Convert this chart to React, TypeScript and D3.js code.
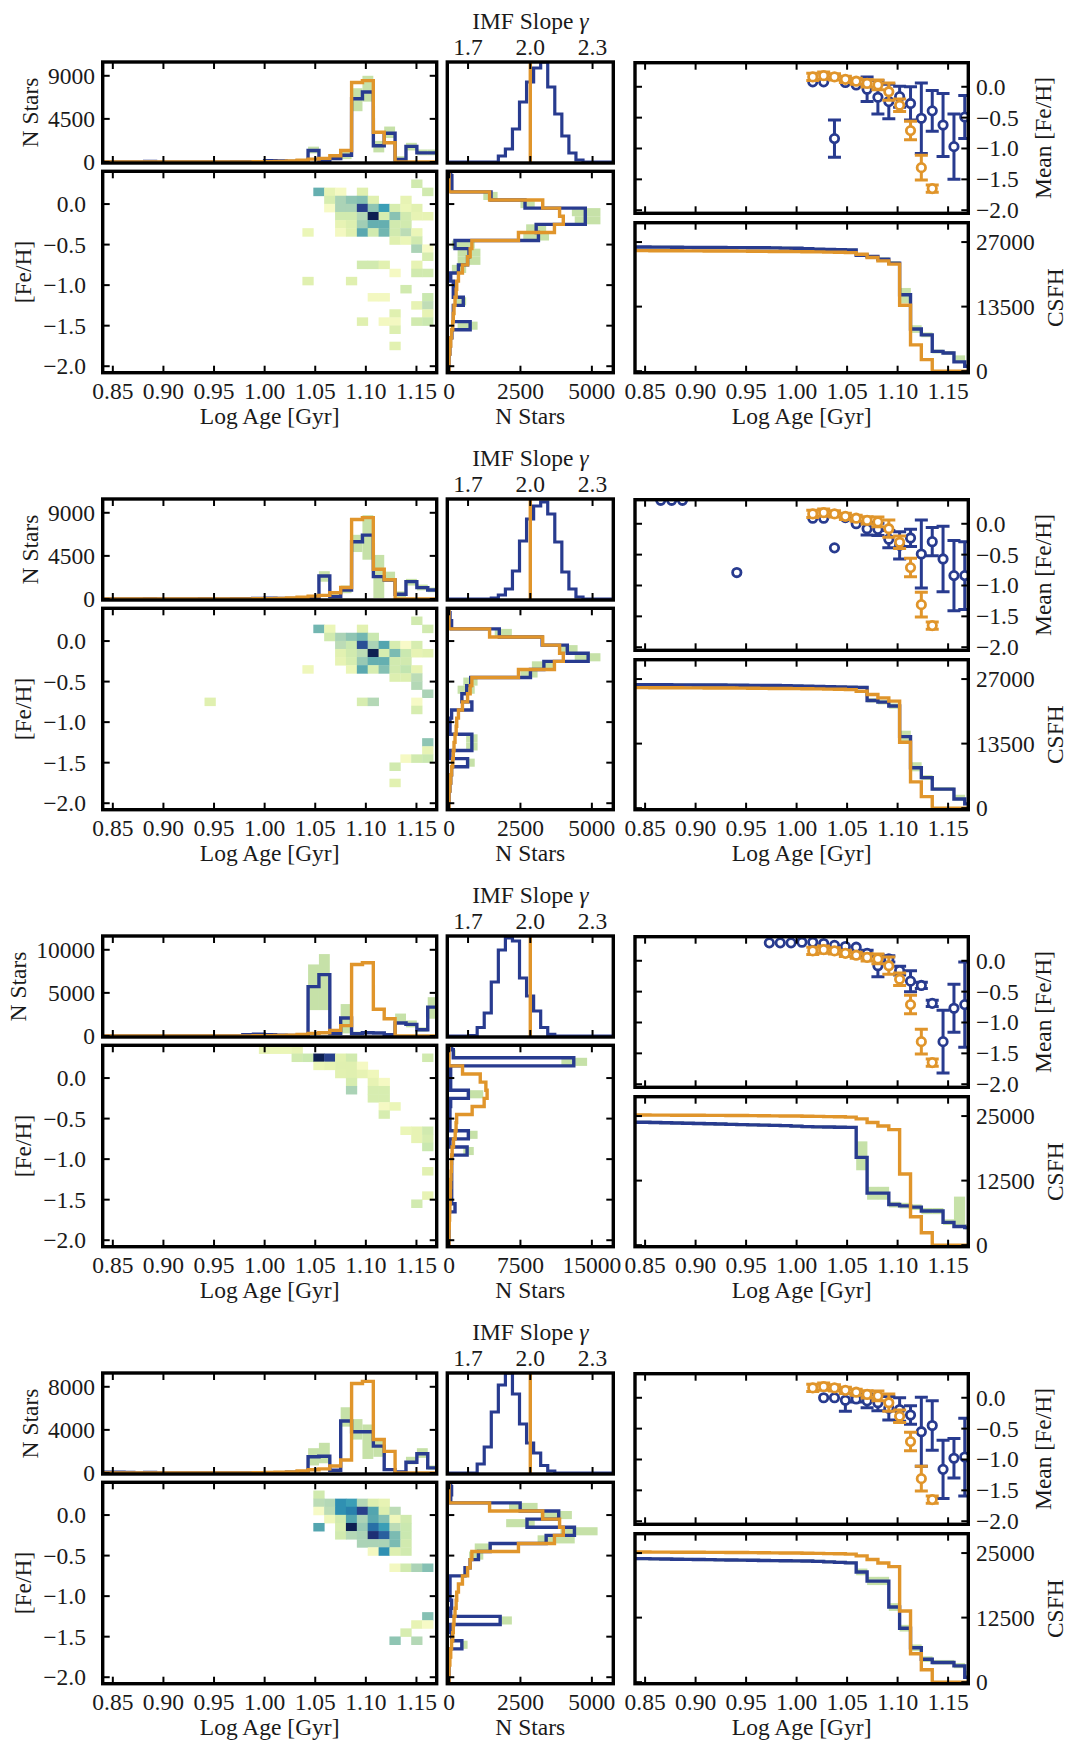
import React from 'react';
import * as d3 from 'd3';

// ---------------- grids / categories ----------------
const AGE_GRID = [0.844, 0.8548, 0.8655, 0.8763, 0.887, 0.8978, 0.9085, 0.9193, 0.93, 0.9408, 0.9515, 0.9623, 0.973, 0.9838, 0.9945, 1.0053, 1.016, 1.0268, 1.0375, 1.0483, 1.059, 1.0698, 1.0805, 1.0913, 1.102, 1.1128, 1.1235, 1.1343, 1.145, 1.1558, 1.1665];
const AGE_BIN_WIDTH = 0.01075;
const AGE_DOMAIN = [0.84, 1.17];
const AGE_TICKS = [0.85, 0.9, 0.95, 1.0, 1.05, 1.1, 1.15];
const AGE_TICK_LABELS = ['0.85', '0.90', '0.95', '1.00', '1.05', '1.10', '1.15'];

const FEH_GRID = [0.4, 0.3, 0.2, 0.1, 0.0, -0.1, -0.2, -0.3, -0.4, -0.5, -0.6, -0.7, -0.8, -0.9, -1.0, -1.1, -1.2, -1.3, -1.4, -1.5, -1.6, -1.7, -1.8, -1.9, -2.0];
const FEH_BIN = 0.1;
const FEH_DOMAIN = [-2.08, 0.404];
const MEAN_DOMAIN = [-2.05, 0.39];
const FEH_TICKS = [0, -0.5, -1.0, -1.5, -2.0];
const FEH_TICK_LABELS = ['0.0', '\u22120.5', '\u22121.0', '\u22121.5', '\u22122.0'];

const IMF_EDGES = [1.608, 1.642, 1.676, 1.71, 1.744, 1.778, 1.812, 1.846, 1.88, 1.914, 1.948, 1.982, 2.016, 2.05, 2.084, 2.118, 2.152, 2.186, 2.22, 2.254, 2.288, 2.322, 2.356, 2.39];
const IMF_DOMAIN = [1.6, 2.4];
const IMF_TICKS = [1.7, 2.0, 2.3];
const IMF_TICK_LABELS = ['1.7', '2.0', '2.3'];
const IMF_TRUE = 2.0;

// ---------------- truth (orange), shared by all rows ----------------
const ORANGE_AGE = [0, 0, 0, 0, 0, 0, 0, 0, 0, 0, 0, 0, 0, 0, 20, 40, 60, 100, 180, 300, 380, 650, 1200, 8300, 8500, 3100, 2000, 0, 0, 0, 0];
const ORANGE_FEH = [0, 0, 0, 1420, 3280, 3870, 4000, 3690, 2430, 800, 740, 650, 470, 330, 270, 250, 210, 175, 150, 130, 90, 60, 30, 0, 0];
const ORANGE_MEAN = [[16, 0.16, 0.06], [17, 0.18, 0.06], [18, 0.16, 0.05], [19, 0.12, 0.05], [20, 0.09, 0.05], [21, 0.055, 0.06], [22, 0.03, 0.08], [23, -0.08, 0.14], [24, -0.30, 0.10], [25, -0.71, 0.15], [26, -1.31, 0.20], [27, -1.65, 0.06]];
const ORANGE_CSFH = [25200, 25190, 25180, 25170, 25160, 25150, 25140, 25130, 25120, 25100, 25080, 25060, 25040, 25020, 25000, 24970, 24940, 24900, 24860, 24790, 24450, 23760, 23070, 22380, 13770, 5500, 2410, 0, 0, 0, 0];

// ---------------- row 1 ----------------
const HIST_TICKS_1 = [0, 4500, 9000];
const N_TICKS_1 = [0, 2500, 5000];
const CSFH_TICKS_1 = [0, 13500, 27000];
const AGE_HIST_1 = [0, 0, 0, 0, 50, 0, 0, 0, 0, 0, 0, 0, 30, 40, 0, 120, 100, 60, 80, 1200, 150, 350, 700, 6600, 7300, 1700, 3000, 250, 1630, 950, 950];
const AGE_BAND_1 = [[19, 900, 1600], [20, 50, 400], [21, 200, 700], [22, 300, 1100], [23, 5300, 7700], [24, 6300, 9000], [25, 1000, 2200], [26, 2500, 3700], [27, 100, 600], [28, 1200, 2000], [29, 700, 1300], [30, 700, 1300]];
const HEAT_1 = [
  [28, 0.2, 0.2],
  [19, 0.1, 0.45], [20, 0.1, 0.12], [21, 0.1, 0.05], [23, 0.1, 0.15], [29, 0.1, 0.2],
  [20, 0.0, 0.18], [21, 0.0, 0.3], [22, 0.0, 0.36], [23, 0.0, 0.38], [24, 0.0, 0.15], [27, 0.0, 0.12],
  [20, -0.1, 0.04], [21, -0.1, 0.3], [22, -0.1, 0.3], [23, -0.1, 0.85], [24, -0.1, 0.36], [25, -0.1, 0.55], [26, -0.1, 0.18], [27, -0.1, 0.1], [28, -0.1, 0.14],
  [21, -0.2, 0.2], [22, -0.2, 0.2], [23, -0.2, 0.28], [24, -0.2, 1.0], [25, -0.2, 0.18], [26, -0.2, 0.37], [27, -0.2, 0.2], [28, -0.2, 0.12], [29, -0.2, 0.12],
  [21, -0.3, 0.12], [22, -0.3, 0.16], [23, -0.3, 0.32], [24, -0.3, 0.45], [25, -0.3, 0.45], [26, -0.3, 0.2], [27, -0.3, 0.2],
  [18, -0.4, 0.1], [21, -0.4, 0.06], [22, -0.4, 0.15], [23, -0.4, 0.48], [24, -0.4, 0.2], [25, -0.4, 0.42], [26, -0.4, 0.2], [27, -0.4, 0.26], [28, -0.4, 0.1],
  [26, -0.5, 0.15], [27, -0.5, 0.1], [28, -0.5, 0.2],
  [28, -0.6, 0.3], [29, -0.6, 0.04],
  [29, -0.7, 0.18],
  [23, -0.8, 0.2], [24, -0.8, 0.2], [25, -0.8, 0.14], [28, -0.8, 0.12],
  [26, -0.9, 0.05], [28, -0.9, 0.2], [29, -0.9, 0.2],
  [18, -1.0, 0.15], [22, -1.0, 0.15],
  [27, -1.1, 0.2],
  [24, -1.2, 0.06], [25, -1.2, 0.06], [29, -1.2, 0.22],
  [28, -1.3, 0.12], [29, -1.3, 0.25],
  [26, -1.4, 0.15], [29, -1.4, 0.12],
  [23, -1.5, 0.15], [25, -1.5, 0.06], [26, -1.5, 0.06], [28, -1.5, 0.2], [29, -1.5, 0.22],
  [26, -1.6, 0.16],
  [26, -1.8, 0.14],
];
const IMF_1 = [0, 0, 0, 0, 0, 0, 0, 0.06, 0.13, 0.33, 0.60, 0.80, 0.94, 1.0, 0.75, 0.48, 0.26, 0.09, 0.02, 0, 0, 0, 0];
const FEH_N_1 = [60, 100, 100, 1470, 2660, 4770, 4770, 3050, 3130, 210, 700, 650, 330, 60, 150, 150, 500, 150, 150, 740, 100, 50, 30, 0, 0];
const FEH_BAND_1 = [[0.1, 1200, 1700], [0.0, 2500, 3000], [-0.1, 4300, 5300], [-0.2, 4400, 5300], [-0.3, 2700, 3400], [-0.4, 2600, 3500], [-0.5, 100, 900], [-0.6, 300, 1100], [-0.7, 300, 1100], [-0.8, 100, 600], [-1.2, 200, 600], [-1.5, 300, 1000]];
const BLUE_MEAN_1 = [[16, 0.08, 0], [17, 0.08, 0], [18, -0.84, 0.30], [19, 0.07, 0], [20, 0.03, 0], [21, -0.04, 0.20], [22, -0.17, 0.27], [23, -0.24, 0.28], [24, -0.16, 0.17], [25, -0.27, 0.27], [26, -0.51, 0.57], [27, -0.39, 0.33], [28, -0.62, 0.51], [29, -0.97, 0.53], [30, -0.49, 0.35]];
const CSFH_1 = [25960, 25950, 25940, 25930, 25880, 25870, 25860, 25850, 25840, 25830, 25820, 25810, 25780, 25740, 25700, 25600, 25500, 25440, 25380, 25340, 24240, 23970, 23400, 22600, 15980, 8815, 7580, 4130, 3790, 1930, 1030];
const CSFH_BAND_1 = [[20, 24000, 24600], [21, 23700, 24300], [22, 23100, 23800], [23, 22200, 23000], [24, 14200, 17400], [25, 8000, 9600], [26, 7100, 8100], [27, 3700, 4500], [28, 3400, 4200], [29, 1700, 3300], [30, 800, 1400]];

// ---------------- row 2 ----------------
const HIST_TICKS_2 = [0, 4500, 9000];
const N_TICKS_2 = [0, 2500, 5000];
const CSFH_TICKS_2 = [0, 13500, 27000];
const AGE_HIST_2 = [0, 0, 0, 0, 30, 0, 0, 0, 0, 40, 0, 0, 30, 40, 50, 80, 60, 60, 50, 100, 2400, 240, 940, 5980, 6670, 2330, 1980, 490, 1810, 1180, 940];
const AGE_BAND_2 = [[20, 1800, 2900], [21, 100, 500], [22, 600, 1400], [23, 4900, 6700], [24, 4100, 8750], [25, 100, 4600], [26, 1800, 2850], [27, 200, 800], [28, 1400, 2100], [29, 900, 1500], [30, 700, 1200]];
const HEAT_2 = [
  [28, 0.2, 0.2],
  [19, 0.1, 0.42], [20, 0.1, 0.1], [23, 0.1, 0.14], [29, 0.1, 0.2],
  [20, 0.0, 0.2], [21, 0.0, 0.3], [22, 0.0, 0.36], [23, 0.0, 0.42], [24, 0.0, 0.22],
  [21, -0.1, 0.26], [22, -0.1, 0.22], [23, -0.1, 0.8], [24, -0.1, 0.3], [25, -0.1, 0.5], [26, -0.1, 0.18], [27, -0.1, 0.03], [28, -0.1, 0.18],
  [21, -0.2, 0.14], [22, -0.2, 0.2], [23, -0.2, 0.26], [24, -0.2, 1.0], [25, -0.2, 0.18], [26, -0.2, 0.4], [27, -0.2, 0.22], [28, -0.2, 0.12], [29, -0.2, 0.14],
  [21, -0.3, 0.12], [22, -0.3, 0.18], [23, -0.3, 0.34], [24, -0.3, 0.45], [25, -0.3, 0.45], [26, -0.3, 0.2], [27, -0.3, 0.2],
  [18, -0.4, 0.08], [22, -0.4, 0.1], [23, -0.4, 0.48], [24, -0.4, 0.18], [25, -0.4, 0.38], [26, -0.4, 0.2], [27, -0.4, 0.24], [28, -0.4, 0.12],
  [26, -0.5, 0.16], [27, -0.5, 0.16], [28, -0.5, 0.26],
  [28, -0.6, 0.28],
  [29, -0.7, 0.3],
  [9, -0.8, 0.15], [23, -0.8, 0.18], [24, -0.8, 0.28], [28, -0.8, 0.04],
  [28, -0.9, 0.18],
  [29, -1.3, 0.36],
  [29, -1.4, 0.12],
  [27, -1.5, 0.05], [28, -1.5, 0.2], [29, -1.5, 0.22],
  [26, -1.6, 0.2],
  [26, -1.8, 0.14],
];
const IMF_2 = [0, 0, 0, 0, 0, 0, 0.01, 0.04, 0.10, 0.28, 0.58, 0.80, 0.93, 0.97, 0.85, 0.57, 0.27, 0.10, 0.02, 0, 0, 0, 0];
const FEH_N_2 = [0, 35, 90, 1760, 3260, 4140, 4870, 3320, 2850, 760, 620, 450, 800, 90, 35, 35, 800, 800, 35, 650, 90, 60, 30, 0, 0];
const FEH_BAND_2 = [[0.1, 1600, 2200], [-0.1, 3900, 4500], [-0.2, 4400, 5300], [-0.3, 2900, 3700], [-0.4, 2500, 3100], [-0.5, 500, 1000], [-0.6, 300, 900], [-1.2, 600, 1000], [-1.3, 600, 1000], [-1.5, 600, 900]];
const BLUE_MEAN_2 = [[2, 0.38, 0], [3, 0.38, 0], [4, 0.38, 0], [9, -0.79, 0], [16, 0.09, 0], [17, 0.09, 0], [18, -0.39, 0], [19, 0.10, 0], [20, 0.0, 0], [21, -0.08, 0.10], [22, -0.09, 0.10], [23, -0.25, 0.14], [24, -0.35, 0.22], [25, -0.23, 0.14], [26, -0.49, 0.55], [27, -0.29, 0.23], [28, -0.57, 0.53], [29, -0.84, 0.57], [30, -0.84, 0.55]];
const CSFH_2 = [25820, 25810, 25800, 25790, 25780, 25770, 25760, 25750, 25740, 25700, 25680, 25660, 25640, 25600, 25560, 25500, 25450, 25400, 25340, 25300, 25270, 22530, 22180, 21360, 14970, 8450, 6390, 3980, 3980, 1920, 890];
const CSFH_BAND_2 = [[21, 22100, 23000], [22, 21700, 22700], [23, 20800, 21900], [24, 13800, 16200], [25, 7700, 9600], [26, 5900, 6900], [27, 3600, 4400], [28, 3600, 4400], [29, 1600, 2800], [30, 700, 1200]];

// ---------------- row 3 ----------------
const HIST_TICKS_3 = [0, 5000, 10000];
const N_TICKS_3 = [0, 7500, 15000];
const CSFH_TICKS_3 = [0, 12500, 25000];
const AGE_HIST_3 = [0, 0, 0, 0, 0, 0, 0, 0, 0, 0, 0, 0, 0, 150, 200, 150, 100, 50, 30, 5730, 7120, 270, 2080, 270, 380, 350, 150, 1500, 1350, 730, 3350];
const AGE_BAND_3 = [[19, 3000, 8300], [20, 3000, 9500], [22, 300, 3700], [23, 100, 500], [27, 1400, 2600], [28, 1000, 1800], [29, 500, 1000], [30, 2000, 4500]];
const HEAT_3 = [
  [14, 0.3, 0.12], [15, 0.3, 0.1], [16, 0.3, 0.1], [17, 0.3, 0.12],
  [17, 0.2, 0.2], [18, 0.2, 0.22], [19, 0.2, 1.0], [20, 0.2, 0.85], [21, 0.2, 0.14], [22, 0.2, 0.2], [29, 0.2, 0.2],
  [19, 0.1, 0.1], [20, 0.1, 0.12], [21, 0.1, 0.15], [22, 0.1, 0.15], [23, 0.1, 0.05],
  [21, 0.0, 0.14], [22, 0.0, 0.15], [23, 0.0, 0.12], [24, 0.0, 0.08],
  [22, -0.1, 0.18], [24, -0.1, 0.12], [25, -0.1, 0.05],
  [22, -0.2, 0.3], [24, -0.2, 0.18], [25, -0.2, 0.18],
  [24, -0.3, 0.18], [25, -0.3, 0.18],
  [25, -0.4, 0.05], [26, -0.4, 0.1],
  [25, -0.5, 0.18],
  [27, -0.7, 0.1], [28, -0.7, 0.12], [29, -0.7, 0.2],
  [28, -0.8, 0.12], [29, -0.8, 0.18],
  [29, -0.9, 0.22],
  [29, -1.2, 0.14],
  [29, -1.5, 0.12],
  [28, -1.6, 0.2],
];
const IMF_3 = [0, 0, 0, 0.005, 0.085, 0.23, 0.54, 0.86, 0.98, 0.95, 0.58, 0.40, 0.25, 0.085, 0.017, 0, 0, 0, 0, 0, 0, 0, 0];
const FEH_N_3 = [280, 450, 13100, 175, 175, 175, 2030, 175, 100, 100, 100, 2030, 100, 1900, 280, 280, 280, 280, 280, 280, 630, 0, 0, 0, 0];
const FEH_BAND_3 = [[0.3, 400, 700], [0.2, 11800, 14500], [-0.2, 2000, 3600], [-0.7, 2000, 3000], [-0.9, 1500, 2600]];
const BLUE_MEAN_3 = [[12, 0.29, 0], [13, 0.29, 0], [14, 0.29, 0], [15, 0.30, 0], [16, 0.30, 0], [17, 0.28, 0], [18, 0.25, 0], [19, 0.23, 0], [20, 0.22, 0], [21, 0.12, 0.05], [22, -0.08, 0.18], [23, 0.03, 0.05], [24, -0.16, 0.07], [25, -0.33, 0.17], [26, -0.40, 0.05], [27, -0.69, 0.05], [28, -1.31, 0.51], [29, -0.77, 0.39], [30, -0.71, 0.69]];
const CSFH_3 = [23800, 23750, 23700, 23650, 23600, 23550, 23500, 23450, 23400, 23350, 23300, 23250, 23200, 23150, 23050, 22950, 22900, 22870, 22840, 22800, 17000, 10075, 10075, 7870, 7600, 7370, 6610, 6610, 4410, 3600, 3400];
const CSFH_BAND_3 = [[20, 14500, 20100], [21, 8800, 11300], [22, 8800, 11300], [23, 7300, 8400], [24, 7100, 8200], [25, 6800, 7900], [26, 6000, 7200], [27, 6000, 7200], [28, 3900, 5000], [29, 3300, 9400], [30, 3000, 4000]];

// ---------------- row 4 ----------------
const HIST_TICKS_4 = [0, 4000, 8000];
const N_TICKS_4 = [0, 2500, 5000];
const CSFH_TICKS_4 = [0, 12500, 25000];
const AGE_HIST_4 = [60, 60, 50, 0, 40, 0, 0, 0, 0, 0, 0, 0, 0, 0, 0, 0, 30, 60, 100, 1500, 1550, 250, 4830, 3830, 3830, 2490, 310, 90, 1000, 1780, 470];
const AGE_BAND_4 = [[19, 700, 2300], [20, 900, 2800], [22, 4300, 6100], [23, 3100, 5000], [24, 1300, 4500], [25, 1500, 3000], [28, 800, 1500], [29, 1400, 2300], [30, 300, 700]];
const HEAT_4 = [
  [19, 0.2, 0.2],
  [19, 0.1, 0.26], [20, 0.1, 0.28], [21, 0.1, 0.6], [22, 0.1, 0.55], [23, 0.1, 0.28], [24, 0.1, 0.16], [25, 0.1, 0.12],
  [19, 0.0, 0.04], [20, 0.0, 0.26], [21, 0.0, 0.6], [22, 0.0, 0.65], [23, 0.0, 0.85], [24, 0.0, 0.5], [25, 0.0, 0.16], [26, 0.0, 0.26],
  [20, -0.1, 0.08], [21, -0.1, 0.2], [22, -0.1, 0.5], [23, -0.1, 0.3], [24, -0.1, 0.48], [25, -0.1, 0.38], [26, -0.1, 0.08], [27, -0.1, 0.2],
  [19, -0.2, 0.5], [21, -0.2, 0.18], [22, -0.2, 1.0], [23, -0.2, 0.34], [24, -0.2, 0.7], [25, -0.2, 0.55], [26, -0.2, 0.26], [27, -0.2, 0.22],
  [21, -0.3, 0.2], [22, -0.3, 0.28], [23, -0.3, 0.3], [24, -0.3, 0.92], [25, -0.3, 0.75], [26, -0.3, 0.4], [27, -0.3, 0.22],
  [23, -0.4, 0.3], [24, -0.4, 0.3], [25, -0.4, 0.3], [26, -0.4, 0.4], [27, -0.4, 0.2],
  [24, -0.5, 0.06], [25, -0.5, 0.6], [26, -0.5, 0.16], [27, -0.5, 0.2],
  [26, -0.7, 0.06], [27, -0.7, 0.2], [28, -0.7, 0.3], [29, -0.7, 0.38],
  [29, -1.3, 0.38],
  [28, -1.4, 0.12], [29, -1.4, 0.04],
  [27, -1.5, 0.18],
  [26, -1.6, 0.36], [28, -1.6, 0.28],
];
const IMF_4 = [0, 0, 0, 0, 0.09, 0.26, 0.61, 0.88, 1.0, 0.79, 0.49, 0.30, 0.20, 0.075, 0.02, 0, 0, 0, 0, 0, 0, 0, 0];
const FEH_N_4 = [60, 90, 60, 2490, 3840, 2730, 4390, 3400, 1440, 1030, 740, 560, 35, 35, 35, 90, 60, 1790, 60, 100, 450, 30, 0, 0, 0];
const FEH_BAND_4 = [[0.1, 2100, 3100], [0.0, 3200, 4300], [-0.1, 2000, 3000], [-0.2, 3900, 5200], [-0.3, 3100, 4400], [-0.4, 900, 1500], [-0.5, 700, 1200], [-1.3, 1800, 2200], [-1.6, 400, 650]];
const BLUE_MEAN_4 = [[17, 0.0, 0], [18, 0.0, 0], [19, -0.04, 0.18], [20, -0.02, 0.05], [21, -0.05, 0.11], [22, -0.08, 0.13], [23, -0.17, 0.19], [24, -0.19, 0.19], [25, -0.28, 0.15], [26, -0.55, 0.56], [27, -0.45, 0.40], [28, -1.16, 0.47], [29, -0.98, 0.32], [30, -0.96, 0.63]];
const CSFH_4 = [23920, 23880, 23840, 23800, 23780, 23750, 23720, 23690, 23660, 23630, 23600, 23570, 23540, 23510, 23480, 23450, 23400, 23300, 23200, 23100, 21330, 19560, 19560, 14560, 10440, 6650, 4430, 3800, 3800, 3160, 950];
const CSFH_BAND_4 = [[20, 20700, 22000], [21, 18800, 20400], [22, 18800, 20400], [23, 13800, 15300], [24, 9800, 11100], [25, 6000, 7300], [26, 3900, 5000], [27, 3400, 4300], [28, 3400, 4300], [29, 2700, 3700], [30, 600, 2200]];

const GROUPS = [
  { histTicks: HIST_TICKS_1, nTicks: N_TICKS_1, csfhTicks: CSFH_TICKS_1, age: AGE_HIST_1, ageBand: AGE_BAND_1, heat: HEAT_1, imf: IMF_1, feh: FEH_N_1, fehBand: FEH_BAND_1, mean: BLUE_MEAN_1, csfh: CSFH_1, csfhBand: CSFH_BAND_1 },
  { histTicks: HIST_TICKS_2, nTicks: N_TICKS_2, csfhTicks: CSFH_TICKS_2, age: AGE_HIST_2, ageBand: AGE_BAND_2, heat: HEAT_2, imf: IMF_2, feh: FEH_N_2, fehBand: FEH_BAND_2, mean: BLUE_MEAN_2, csfh: CSFH_2, csfhBand: CSFH_BAND_2 },
  { histTicks: HIST_TICKS_3, nTicks: N_TICKS_3, csfhTicks: CSFH_TICKS_3, age: AGE_HIST_3, ageBand: AGE_BAND_3, heat: HEAT_3, imf: IMF_3, feh: FEH_N_3, fehBand: FEH_BAND_3, mean: BLUE_MEAN_3, csfh: CSFH_3, csfhBand: CSFH_BAND_3 },
  { histTicks: HIST_TICKS_4, nTicks: N_TICKS_4, csfhTicks: CSFH_TICKS_4, age: AGE_HIST_4, ageBand: AGE_BAND_4, heat: HEAT_4, imf: IMF_4, feh: FEH_N_4, fehBand: FEH_BAND_4, mean: BLUE_MEAN_4, csfh: CSFH_4, csfhBand: CSFH_BAND_4 },
];

// ---------------- styling / layout ----------------
const GROUP_TOPS = [62, 499, 936, 1373];
const X_L0 = 102.7, X_L1 = 436.7;
const X_M0 = 447.3, X_M1 = 613.3;
const X_R0 = 635, X_R1 = 968.3;
const FONT = "'Liberation Serif', 'Times New Roman', 'DejaVu Serif', serif";
const FS = 23.5;
const BLUE = '#283b8f';
const ORANGE = '#e0952b';
const GREEN = '#c6e1a8';
const TXT = '#1a1a1a';
const FRAME_W = 3.4;
const TICK_LEN = 7;
const TICK_W = 2;
const LINE_W = 3.4;

type R = { x0: number; x1: number; y0: number; y1: number };

function Frame({ r }: { r: R }) {
  return <rect x={r.x0} y={r.y0} width={r.x1 - r.x0} height={r.y1 - r.y0} fill="none" stroke="#000" strokeWidth={FRAME_W} />;
}

function Clip({ id, r }: { id: string; r: R }) {
  return (
    <clipPath id={id}>
      <rect x={r.x0} y={r.y0} width={r.x1 - r.x0} height={r.y1 - r.y0} />
    </clipPath>
  );
}

function Ticks({ r, xs, ys }: { r: R; xs: number[]; ys: number[] }) {
  return (
    <g stroke="#000" strokeWidth={TICK_W}>
      {xs.map((x, i) => (
        <g key={'x' + i}>
          <line x1={x} x2={x} y1={r.y0} y2={r.y0 + TICK_LEN} />
          <line x1={x} x2={x} y1={r.y1} y2={r.y1 - TICK_LEN} />
        </g>
      ))}
      {ys.map((y, i) => (
        <g key={'y' + i}>
          <line x1={r.x0} x2={r.x0 + TICK_LEN} y1={y} y2={y} />
          <line x1={r.x1} x2={r.x1 - TICK_LEN} y1={y} y2={y} />
        </g>
      ))}
    </g>
  );
}

function MeanSeries({ pts, color, x, y }: { pts: number[][]; color: string; x: any; y: any }) {
  return (
    <g>
      {pts.filter(p => p[2] > 0).map((p, i) => {
        const cx = x(AGE_GRID[p[0]]);
        const ya = y(p[1] - p[2]);
        const yb = y(p[1] + p[2]);
        return (
          <g key={'e' + i} stroke={color} strokeWidth={3}>
            <line x1={cx} x2={cx} y1={ya} y2={yb} />
            <line x1={cx - 6.5} x2={cx + 6.5} y1={ya} y2={ya} />
            <line x1={cx - 6.5} x2={cx + 6.5} y1={yb} y2={yb} />
          </g>
        );
      })}
      {pts.map((p, i) => (
        <circle key={'c' + i} cx={x(AGE_GRID[p[0]])} cy={y(p[1])} r={4.2} fill="#fff" stroke={color} strokeWidth={2.8} />
      ))}
    </g>
  );
}

const heatColor = (lv: number) => {
  const c = d3.hsl(d3.interpolateYlGnBu(lv));
  const f = lv < 0.25 ? 0.92 : lv < 0.55 ? 0.72 : 0.88;
  c.s = c.s * f;
  c.l = c.l * 0.98;
  return c.formatHex();
};

function Group({ gi, top, d }: { gi: number; top: number; d: any }) {
  const T = top;
  const rH: R = { x0: X_L0, x1: X_L1, y0: T, y1: T + 101 };
  const rM: R = { x0: X_L0, x1: X_L1, y0: T + 109.3, y1: T + 310.7 };
  const rI: R = { x0: X_M0, x1: X_M1, y0: T, y1: T + 101 };
  const rF: R = { x0: X_M0, x1: X_M1, y0: T + 109.3, y1: T + 310.7 };
  const rA: R = { x0: X_R0, x1: X_R1, y0: T + 0.7, y1: T + 151.3 };
  const rC: R = { x0: X_R0, x1: X_R1, y0: T + 160.7, y1: T + 310.7 };
  const id = (n: string) => `clip${gi}${n}`;

  const histMax = d.histTicks[2];
  const nMax = d.nTicks[2];
  const csfhMax = d.csfhTicks[2];

  const xL = d3.scaleLinear().domain(AGE_DOMAIN).range([X_L0, X_L1]);
  const xR = d3.scaleLinear().domain(AGE_DOMAIN).range([X_R0, X_R1]);
  const yH = d3.scaleLinear().domain([-0.012 * histMax, 1.16 * histMax]).range([rH.y1, rH.y0]);
  const yM = d3.scaleLinear().domain(FEH_DOMAIN).range([rM.y1, rM.y0]);
  const xI = d3.scaleLinear().domain(IMF_DOMAIN).range([X_M0, X_M1]);
  const yI = d3.scaleLinear().domain([-0.01, 1]).range([rI.y1, rI.y0]);
  const xN = d3.scaleLinear().domain([-0.012 * nMax, 1.15 * nMax]).range([X_M0, X_M1]);
  const yF = d3.scaleLinear().domain(FEH_DOMAIN).range([rF.y1, rF.y0]);
  const yA = d3.scaleLinear().domain(MEAN_DOMAIN).range([rA.y1, rA.y0]);
  const yC = d3.scaleLinear().domain([-0.012 * csfhMax, 1.15 * csfhMax]).range([rC.y1, rC.y0]);

  const hw = AGE_BIN_WIDTH / 2;
  const ageStep = (vals: number[]) => vals.flatMap((v, j) => [[AGE_GRID[j] - hw, v], [AGE_GRID[j] + hw, v]]);
  const histLine = d3.line<number[]>().x(p => xL(p[0])).y(p => yH(p[1]));

  const imfStep = (vals: number[]) => {
    const pts: number[][] = [[IMF_DOMAIN[0], 0]];
    vals.forEach((v, i) => { pts.push([IMF_EDGES[i], v], [IMF_EDGES[i + 1], v]); });
    pts.push([IMF_DOMAIN[1], 0]);
    return pts;
  };
  const imfLine = d3.line<number[]>().x(p => xI(p[0])).y(p => yI(p[1]));

  const fehStep = (vals: number[]) => {
    const pts: number[][] = [];
    vals.forEach((v, i) => { pts.push([v, FEH_GRID[i] + FEH_BIN / 2], [v, FEH_GRID[i] - FEH_BIN / 2]); });
    pts.push([vals[vals.length - 1], -2.2]);
    return pts;
  };
  const fehLine = d3.line<number[]>().x(p => xN(p[0])).y(p => yF(p[1]));

  const csfhStep = (vals: number[]) => vals.flatMap((v, j) => {
    const a0 = j === 0 ? 0.83 : AGE_GRID[j];
    const a1 = j === vals.length - 1 ? 1.18 : AGE_GRID[j + 1];
    return [[a0, v], [a1, v]];
  });
  const csfhLine = d3.line<number[]>().x(p => xR(p[0])).y(p => yC(p[1]));

  const csfhBandMap = new Map<number, number[]>(d.csfhBand.map((b: number[]) => [b[0], b]));

  const ageTickXL = AGE_TICKS.map(t => xL(t));
  const ageTickXR = AGE_TICKS.map(t => xR(t));

  const nDigits = String(histMax).length;
  const nStarsX = 95 - nDigits * 0.5 * FS - 10.5;

  return (
    <g>
      <defs>
        <Clip id={id('h')} r={rH} />
        <Clip id={id('m')} r={rM} />
        <Clip id={id('i')} r={rI} />
        <Clip id={id('f')} r={rF} />
        <Clip id={id('a')} r={rA} />
        <Clip id={id('c')} r={rC} />
      </defs>

      {/* ---------- age histogram ---------- */}
      <g clipPath={`url(#${id('h')})`}>
        {d.ageBand.map((b: number[], i: number) => (
          <rect key={i} x={xL(AGE_GRID[b[0]] - hw)} width={xL(AGE_GRID[b[0]] + hw) - xL(AGE_GRID[b[0]] - hw)} y={yH(b[2])} height={yH(b[1]) - yH(b[2])} fill={GREEN} />
        ))}
        <path d={histLine(ageStep(d.age)) || ''} fill="none" stroke={BLUE} strokeWidth={LINE_W} strokeLinejoin="miter" />
        <path d={histLine(ageStep(ORANGE_AGE)) || ''} fill="none" stroke={ORANGE} strokeWidth={LINE_W} strokeLinejoin="miter" />
      </g>
      <Ticks r={rH} xs={ageTickXL} ys={d.histTicks.map((t: number) => yH(t))} />
      <Frame r={rH} />
      {d.histTicks.map((t: number) => (
        <text key={t} x={95} y={yH(t)} dy="0.34em" textAnchor="end" fontSize={FS} fill={TXT}>{String(t)}</text>
      ))}
      <text transform={`translate(${nStarsX},${(rH.y0 + rH.y1) / 2}) rotate(-90)`} textAnchor="middle" fontSize={FS} fill={TXT}>N Stars</text>

      {/* ---------- age-metallicity map ---------- */}
      <g clipPath={`url(#${id('m')})`}>
        {d.heat.map((c: number[], i: number) => {
          const x0 = xL(AGE_GRID[c[0]]);
          const x1 = xL(AGE_GRID[c[0]] + AGE_BIN_WIDTH);
          const y0 = yM(c[1] + FEH_BIN);
          const y1 = yM(c[1]);
          return <rect key={i} x={x0 - 0.2} y={y0 - 0.2} width={x1 - x0 + 0.4} height={y1 - y0 + 0.4} fill={heatColor(c[2])} />;
        })}
      </g>
      <Ticks r={rM} xs={ageTickXL} ys={FEH_TICKS.map(t => yM(t))} />
      <Frame r={rM} />
      {FEH_TICKS.map((t, i) => (
        <text key={t} x={86} y={yM(t)} dy="0.34em" textAnchor="end" fontSize={FS} fill={TXT}>{FEH_TICK_LABELS[i]}</text>
      ))}
      {AGE_TICKS.map((t, i) => (
        <text key={t} x={xL(t)} y={rM.y1 + 26} textAnchor="middle" fontSize={FS} fill={TXT}>{AGE_TICK_LABELS[i]}</text>
      ))}
      <text x={(X_L0 + X_L1) / 2} y={rM.y1 + 51.5} textAnchor="middle" fontSize={FS} fill={TXT}>Log Age [Gyr]</text>
      <text transform={`translate(30.5,${(rM.y0 + rM.y1) / 2}) rotate(-90)`} textAnchor="middle" fontSize={FS} fill={TXT}>[Fe/H]</text>

      {/* ---------- IMF slope ---------- */}
      <g clipPath={`url(#${id('i')})`}>
        <path d={imfLine(imfStep(d.imf)) || ''} fill="none" stroke={BLUE} strokeWidth={3.2} />
        <line x1={xI(IMF_TRUE)} x2={xI(IMF_TRUE)} y1={rI.y0} y2={rI.y1} stroke={ORANGE} strokeWidth={3.4} />
      </g>
      <Ticks r={rI} xs={IMF_TICKS.map(t => xI(t))} ys={[]} />
      <Frame r={rI} />
      {IMF_TICKS.map((t, i) => (
        <text key={t} x={xI(t)} y={T - 7} textAnchor="middle" fontSize={FS} fill={TXT}>{IMF_TICK_LABELS[i]}</text>
      ))}
      <text x={(X_M0 + X_M1) / 2} y={T - 33.5} textAnchor="middle" fontSize={FS} fill={TXT}>
        IMF Slope <tspan fontStyle="italic">{'\u03b3'}</tspan>
      </text>

      {/* ---------- [Fe/H] marginal ---------- */}
      <g clipPath={`url(#${id('f')})`}>
        {d.fehBand.map((b: number[], i: number) => (
          <rect key={i} x={xN(b[1])} width={xN(b[2]) - xN(b[1])} y={yF(b[0] + FEH_BIN / 2)} height={yF(b[0] - FEH_BIN / 2) - yF(b[0] + FEH_BIN / 2)} fill={GREEN} />
        ))}
        <path d={fehLine(fehStep(d.feh)) || ''} fill="none" stroke={BLUE} strokeWidth={LINE_W} />
        <path d={fehLine(fehStep(ORANGE_FEH)) || ''} fill="none" stroke={ORANGE} strokeWidth={LINE_W} />
      </g>
      <Ticks r={rF} xs={d.nTicks.map((t: number) => xN(t))} ys={FEH_TICKS.map(t => yF(t))} />
      <Frame r={rF} />
      {d.nTicks.map((t: number) => (
        <text key={t} x={xN(t)} y={rF.y1 + 26} textAnchor="middle" fontSize={FS} fill={TXT}>{String(t)}</text>
      ))}
      <text x={(X_M0 + X_M1) / 2} y={rF.y1 + 51.5} textAnchor="middle" fontSize={FS} fill={TXT}>N Stars</text>

      {/* ---------- mean [Fe/H] ---------- */}
      <g clipPath={`url(#${id('a')})`}>
        <MeanSeries pts={d.mean} color={BLUE} x={xR} y={yA} />
        <MeanSeries pts={ORANGE_MEAN} color={ORANGE} x={xR} y={yA} />
      </g>
      <Ticks r={rA} xs={ageTickXR} ys={FEH_TICKS.map(t => yA(t))} />
      <Frame r={rA} />
      {FEH_TICKS.map((t, i) => (
        <text key={t} x={976} y={yA(t)} dy="0.34em" textAnchor="start" fontSize={FS} fill={TXT}>{FEH_TICK_LABELS[i]}</text>
      ))}
      <text transform={`translate(1050.5,${(rA.y0 + rA.y1) / 2}) rotate(-90)`} textAnchor="middle" fontSize={FS} fill={TXT}>Mean [Fe/H]</text>

      {/* ---------- CSFH ---------- */}
      <g clipPath={`url(#${id('c')})`}>
        {d.csfh.map((v: number, j: number) => {
          const b = csfhBandMap.get(j);
          const lo = b ? b[1] : v - 300;
          const hi = b ? b[2] : v + 300;
          const a0 = j === 0 ? 0.83 : AGE_GRID[j];
          const a1 = j === d.csfh.length - 1 ? 1.18 : AGE_GRID[j + 1];
          return <rect key={j} x={xR(a0)} width={xR(a1) - xR(a0) + 0.3} y={yC(hi)} height={yC(lo) - yC(hi)} fill={GREEN} />;
        })}
        <path d={csfhLine(csfhStep(d.csfh)) || ''} fill="none" stroke={BLUE} strokeWidth={LINE_W} />
        <path d={csfhLine(csfhStep(ORANGE_CSFH)) || ''} fill="none" stroke={ORANGE} strokeWidth={LINE_W} />
      </g>
      <Ticks r={rC} xs={ageTickXR} ys={d.csfhTicks.map((t: number) => yC(t))} />
      <Frame r={rC} />
      {d.csfhTicks.map((t: number) => (
        <text key={t} x={976} y={yC(t)} dy="0.34em" textAnchor="start" fontSize={FS} fill={TXT}>{String(t)}</text>
      ))}
      <text transform={`translate(1063,${(rC.y0 + rC.y1) / 2}) rotate(-90)`} textAnchor="middle" fontSize={FS} fill={TXT}>CSFH</text>
      {AGE_TICKS.map((t, i) => (
        <text key={t} x={xR(t)} y={rC.y1 + 26} textAnchor="middle" fontSize={FS} fill={TXT}>{AGE_TICK_LABELS[i]}</text>
      ))}
      <text x={(X_R0 + X_R1) / 2} y={rC.y1 + 51.5} textAnchor="middle" fontSize={FS} fill={TXT}>Log Age [Gyr]</text>
    </g>
  );
}

export default function App() {
  return (
    <svg width={1070} height={1741} viewBox="0 0 1070 1741" style={{ position: 'absolute', left: 0, top: 0, background: '#fff' }} fontFamily={FONT}>
      <rect x={0} y={0} width={1070} height={1741} fill="#fff" />
      {GROUPS.map((g, i) => (
        <Group key={i} gi={i} top={GROUP_TOPS[i]} d={g} />
      ))}
    </svg>
  );
}
